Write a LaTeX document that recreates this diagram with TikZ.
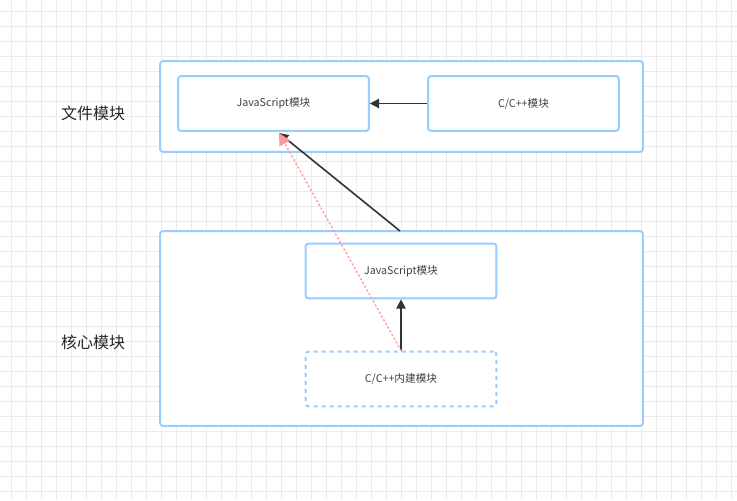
\documentclass[tikz,border=0pt]{standalone}
\usepackage{fontspec}
\setmainfont{Noto Sans CJK SC}
\usetikzlibrary{arrows.meta, positioning}
\definecolor{boxblue}{HTML}{99CCFF}
\definecolor{gridgray}{HTML}{EBEBEB}
\definecolor{arrowdark}{HTML}{333333}
\definecolor{hintred}{HTML}{FF9999}
\begin{document}
\begin{tikzpicture}[x=0.75pt, y=-0.75pt,
    group/.style={rectangle, draw=boxblue, line width=1.5pt, rounded corners=2pt, fill=white},
    module/.style={rectangle, draw=boxblue, line width=1.5pt, rounded corners=2pt, fill=white,
                   minimum width=143pt, minimum height=41pt, font=\fontsize{8}{10}\selectfont, text=black!75},
    builtin/.style={module, dashed},
    title/.style={font=\fontsize{12}{14}\selectfont, text=black!85},
    flow/.style={-{Triangle[length=7pt, width=7pt]}, draw=arrowdark, line width=1.2pt}
]
\useasboundingbox (0,0) rectangle (737,500);
% grid background
\foreach \x in {11,26,...,737} \draw[gridgray, line width=0.4pt] (\x,0) -- (\x,500);
\foreach \y in {11,26,...,500} \draw[gridgray, line width=0.4pt] (0,\y) -- (737,\y);

% file modules
\node[group, minimum width=362pt, minimum height=68pt] (FileGroup) at (401.5,106.5) {};
\node[module] (FileJS) at (273.5,103.5) {JavaScript模块};
\node[module] (FileC) at (523.5,103.5) {C/C++模块};
\node[title] (FileLabel) at (93,113) {文件模块};

% core modules
\node[group, minimum width=362pt, minimum height=146pt] (CoreGroup) at (401.5,328.5) {};
\node[module] (CoreJS) at (401,271) {JavaScript模块};
\node[builtin] (CoreC) at (401,379) {C/C++内建模块};
\node[title] (CoreLabel) at (93,342) {核心模块};

\coordinate (CoreTop) at (400,231);
\coordinate (FileJSHit) at (279,133);

% connections
\draw[flow] (FileC) -- (FileJS);
\draw[flow] (CoreC) -- (CoreJS);
\draw[flow] (CoreTop) -- (FileJSHit);
\draw[-{Triangle[length=9pt, width=9pt]}, draw=hintred, fill=hintred, line width=1.2pt, dotted]
    (CoreC.north) -- (FileJSHit);
\end{tikzpicture}
\end{document}
